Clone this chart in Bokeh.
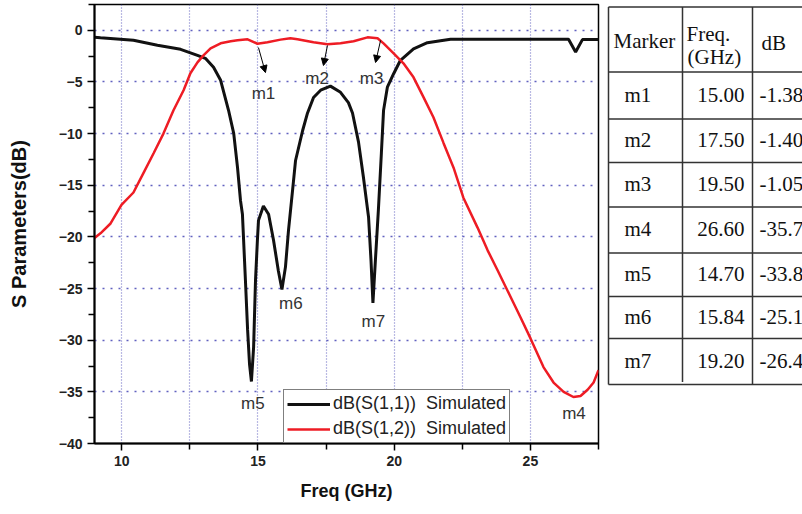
from bokeh.plotting import figure
from bokeh.layouts import row
from bokeh.models import (Range1d, FixedTicker, Legend, LegendItem, Arrow,
                          NormalHead, ColumnDataSource)
from bokeh.embed import file_html
from bokeh.resources import INLINE
from bokeh.core.properties import value

# ---------------- data ----------------
s11_freq = [9.00, 9.22, 10.43, 11.31, 12.16, 12.78, 13.07, 13.37, 13.63, 13.92,
            14.11, 14.25, 14.36, 14.43, 14.54, 14.62, 14.69, 14.76, 14.84, 14.91,
            14.98, 15.02, 15.20, 15.39, 15.57, 15.75, 15.88, 16.01, 16.12, 16.27,
            16.38, 16.64, 16.82, 17.04, 17.30, 17.66, 18.03, 18.32, 18.47, 18.69,
            18.87, 19.06, 19.15, 19.22, 19.31, 19.42, 19.53, 19.61, 19.75, 19.98,
            20.23, 20.71, 21.22, 21.70, 22.07, 24.00, 26.40, 26.66, 26.91, 27.50]
s11_db = [-0.68, -0.73, -0.97, -1.45, -1.84, -2.42, -2.71, -3.58, -4.84, -7.74,
          -9.97, -13.3, -16.5, -17.8, -24.2, -29.0, -32.3, -34.0, -30.7, -24.2,
          -20.3, -18.4, -17.0, -17.8, -20.3, -23.3, -25.1, -22.9, -19.4, -15.5,
          -12.6, -9.7, -8.0, -6.5, -5.8, -5.4, -6.0, -7.0, -8.0, -10.8,
          -14.2, -18.1, -22.3, -26.4, -22.3, -17.4, -11.9, -7.75, -5.5, -4.2,
          -2.9, -1.8, -1.2, -1.0, -0.87, -0.86, -0.87, -2.1, -0.9, -0.9]

s12_freq = [9.00, 9.22, 9.59, 9.99, 10.43, 10.80, 11.17, 11.53, 11.90, 12.27,
            12.52, 12.78, 13.00, 13.26, 13.63, 14.00, 14.25, 14.62, 14.98, 15.35,
            15.83, 16.19, 16.45, 17.04, 17.55, 18.03, 18.51, 19.02, 19.39, 19.61,
            19.98, 20.34, 20.71, 21.08, 21.44, 21.81, 22.18, 22.54, 23.06, 23.43,
            23.79, 24.27, 24.64, 25.00, 25.48, 25.85, 26.22, 26.58, 26.84, 27.10,
            27.32, 27.50]
s12_db = [-20.1, -19.65, -18.7, -16.9, -15.7, -13.8, -11.9, -10.0, -7.74, -5.8,
          -4.16, -3.1, -2.42, -1.74, -1.26, -1.06, -0.97, -0.87, -1.3, -1.16,
          -0.9, -0.77, -0.87, -1.16, -1.35, -1.26, -1.06, -0.68, -0.77, -1.26,
          -2.23, -3.19, -4.55, -6.49, -8.42, -10.9, -13.3, -16.2, -19.1, -21.3,
          -23.2, -25.8, -27.8, -29.8, -32.6, -34.1, -35.0, -35.5, -35.4, -34.8,
          -34.1, -32.9]

x_ticks = [10, 15, 20, 25]
x_minor = [12.5, 17.5, 22.5, 27.5]
y_ticks = [0, -5, -10, -15, -20, -25, -30, -35, -40]
y_minor = [2.5, -2.5, -7.5, -12.5, -17.5, -22.5, -27.5, -32.5, -37.5]

markers = ["m1", "m2", "m3", "m4", "m5", "m6", "m7"]
marker_freq = [15.00, 17.50, 19.50, 26.60, 14.70, 15.84, 19.20]
marker_db = [-1.38, -1.40, -1.05, -35.7, -33.8, -25.1, -26.4]
marker_freq_txt = ["15.00", "17.50", "19.50", "26.60", "14.70", "15.84", "19.20"]
marker_db_txt = ["-1.38", "-1.40", "-1.05", "-35.7", "-33.8", "-25.1", "-26.4"]

# ---------------- layout constants ----------------
X0, X1 = 9.0, 27.5
Y0, Y1 = -40.0, 2.5
FW, FH = 504, 439
PX_X = FW / (X1 - X0)
PX_Y = FH / (Y1 - Y0)
SANS = "Liberation Sans"
SERIF = "Liberation Serif"

p = figure(width=604, height=514, x_range=Range1d(X0, X1), y_range=Range1d(Y0, Y1),
           output_backend="svg", toolbar_location=None,
           min_border_left=94, min_border_right=6, min_border_top=4,
           min_border_bottom=71, background_fill_color="white",
           border_fill_color="white")

r11 = p.line(s11_freq, s11_db, line_color="#111111", line_width=3)
r12 = p.line(s12_freq, s12_db, line_color="#ee1c24", line_width=2.5)

# axes
p.xaxis.ticker = FixedTicker(ticks=x_ticks, minor_ticks=x_minor)
p.yaxis.ticker = FixedTicker(ticks=y_ticks, minor_ticks=y_minor)
for ax in (p.xaxis, p.yaxis):
    ax.axis_line_color = "black"
    ax.axis_line_width = 2
    ax.major_tick_line_color = "black"
    ax.minor_tick_line_color = "black"
    ax.major_tick_line_width = 1.5
    ax.minor_tick_line_width = 1.5
    ax.major_tick_in = 0
    ax.minor_tick_in = 0
    ax.major_tick_out = 7
    ax.minor_tick_out = 6
    ax.major_label_text_font = SANS
    ax.major_label_text_font_style = "bold"
    ax.major_label_text_font_size = "14px"
    ax.major_label_text_color = "#222222"
    ax.axis_label_text_font = SANS
    ax.axis_label_text_font_style = "bold"
    ax.axis_label_text_color = "#111111"

p.xaxis.axis_label = "Freq (GHz)"
p.xaxis.axis_label_text_font_size = "18px"
p.xaxis.major_label_standoff = 5
p.xaxis.axis_label_standoff = 12
p.yaxis.axis_label = "S Parameters(dB)"
p.yaxis.axis_label_text_font_size = "20px"
p.yaxis.major_label_standoff = 5
p.yaxis.axis_label_standoff = 26

p.outline_line_color = "black"
p.outline_line_width = 1.5

# grid
p.ygrid.grid_line_color = "#3a3ab0"
p.ygrid.grid_line_dash = "2 6"
p.ygrid.grid_line_width = 1.5
p.ygrid.grid_line_alpha = 0.8
p.xgrid.grid_line_color = "#3a3ab0"
p.xgrid.grid_line_dash = "1 2"
p.xgrid.grid_line_width = 1.2
p.xgrid.grid_line_alpha = 0.7
p.xgrid.minor_grid_line_color = "#3a3ab0"
p.xgrid.minor_grid_line_dash = "1 2"
p.xgrid.minor_grid_line_width = 1.2
p.xgrid.minor_grid_line_alpha = 0.7

# legend
legend = Legend(items=[LegendItem(label="dB(S(1,1))  Simulated", renderers=[r11]),
                       LegendItem(label="dB(S(1,2))  Simulated", renderers=[r12])],
                location=(189, 0), margin=0, padding=3, spacing=4,
                glyph_width=43, glyph_height=20, label_height=20, label_standoff=3,
                label_text_font=SANS, label_text_font_size="18px",
                label_text_color="#222222", border_line_color="black",
                border_line_width=1.5, background_fill_color="white",
                background_fill_alpha=1.0)
p.add_layout(legend, "center")

# marker labels (pixel offsets from each marker point)
label_dx = [5.5, -9, -9, 0, 3, 10, 1]
label_dy = [49, 34, 37, 14, 24, 14, 18.5]
lab_src = ColumnDataSource(dict(x=marker_freq, y=marker_db, t=markers,
                                dx=label_dx, dy=label_dy))
p.text(x="x", y="y", text="t", x_offset="dx", y_offset="dy", source=lab_src,
       text_font=value(SANS), text_font_size="17px", text_color="#333333",
       text_align="center", text_baseline="middle")

# arrows for m1..m3 (start/end pixel offsets from marker point)
arrow_offsets = [((0.5, 3), (7.5, 28)), ((1.4, 0.7), (-2.6, 20.7)), ((0, -0.7), (-5, 21.3))]
for i, ((sx, sy), (ex, ey)) in enumerate(arrow_offsets):
    fx, fy = marker_freq[i], marker_db[i]
    p.add_layout(Arrow(end=NormalHead(size=7, fill_color="black", line_color="black"),
                       x_start=fx + sx / PX_X, y_start=fy - sy / PX_Y,
                       x_end=fx + ex / PX_X, y_end=fy - ey / PX_Y,
                       line_color="black", line_width=1))

# ---------------- table ----------------
t = figure(width=198, height=514, x_range=Range1d(604, 802), y_range=Range1d(514, 0),
           output_backend="svg", toolbar_location=None, min_border=0,
           background_fill_color="white", border_fill_color="white")
t.axis.visible = False
t.grid.visible = False
t.outline_line_color = None

row_lines = [3, 79, 134, 185, 237, 291, 342, 391, 445]
t.segment(x0=[608] * len(row_lines), x1=[806] * len(row_lines), y0=row_lines, y1=row_lines,
          line_color="#333333", line_width=1.5)
t.segment(x0=[608, 682, 752], x1=[608, 682, 752], y0=[3, 3, 3], y1=[445, 442, 445],
          line_color="#333333", line_width=1.5)

hdr_kw = dict(text_font=value(SERIF), text_font_size="21px", text_color="#111111",
              text_baseline="middle", text_align="left")
t.text(x=[613, 686, 687, 761], y=[43, 34, 62, 45],
       text=["Marker", "Freq.", "(GHz)", "dB"], **hdr_kw)

row_y = [(row_lines[i + 1] + row_lines[i + 2]) / 2 - 1 for i in range(len(markers))]
t.text(x=[624] * len(markers), y=row_y, text=markers, **hdr_kw)
t.text(x=[744] * len(markers), y=row_y, text=marker_freq_txt,
       text_font=value(SERIF), text_font_size="21px", text_color="#111111",
       text_baseline="middle", text_align="right")
t.text(x=[759] * len(markers), y=row_y, text=marker_db_txt, **hdr_kw)

layout = row(p, t)
open("out.html", "w").write(file_html(layout, INLINE))
